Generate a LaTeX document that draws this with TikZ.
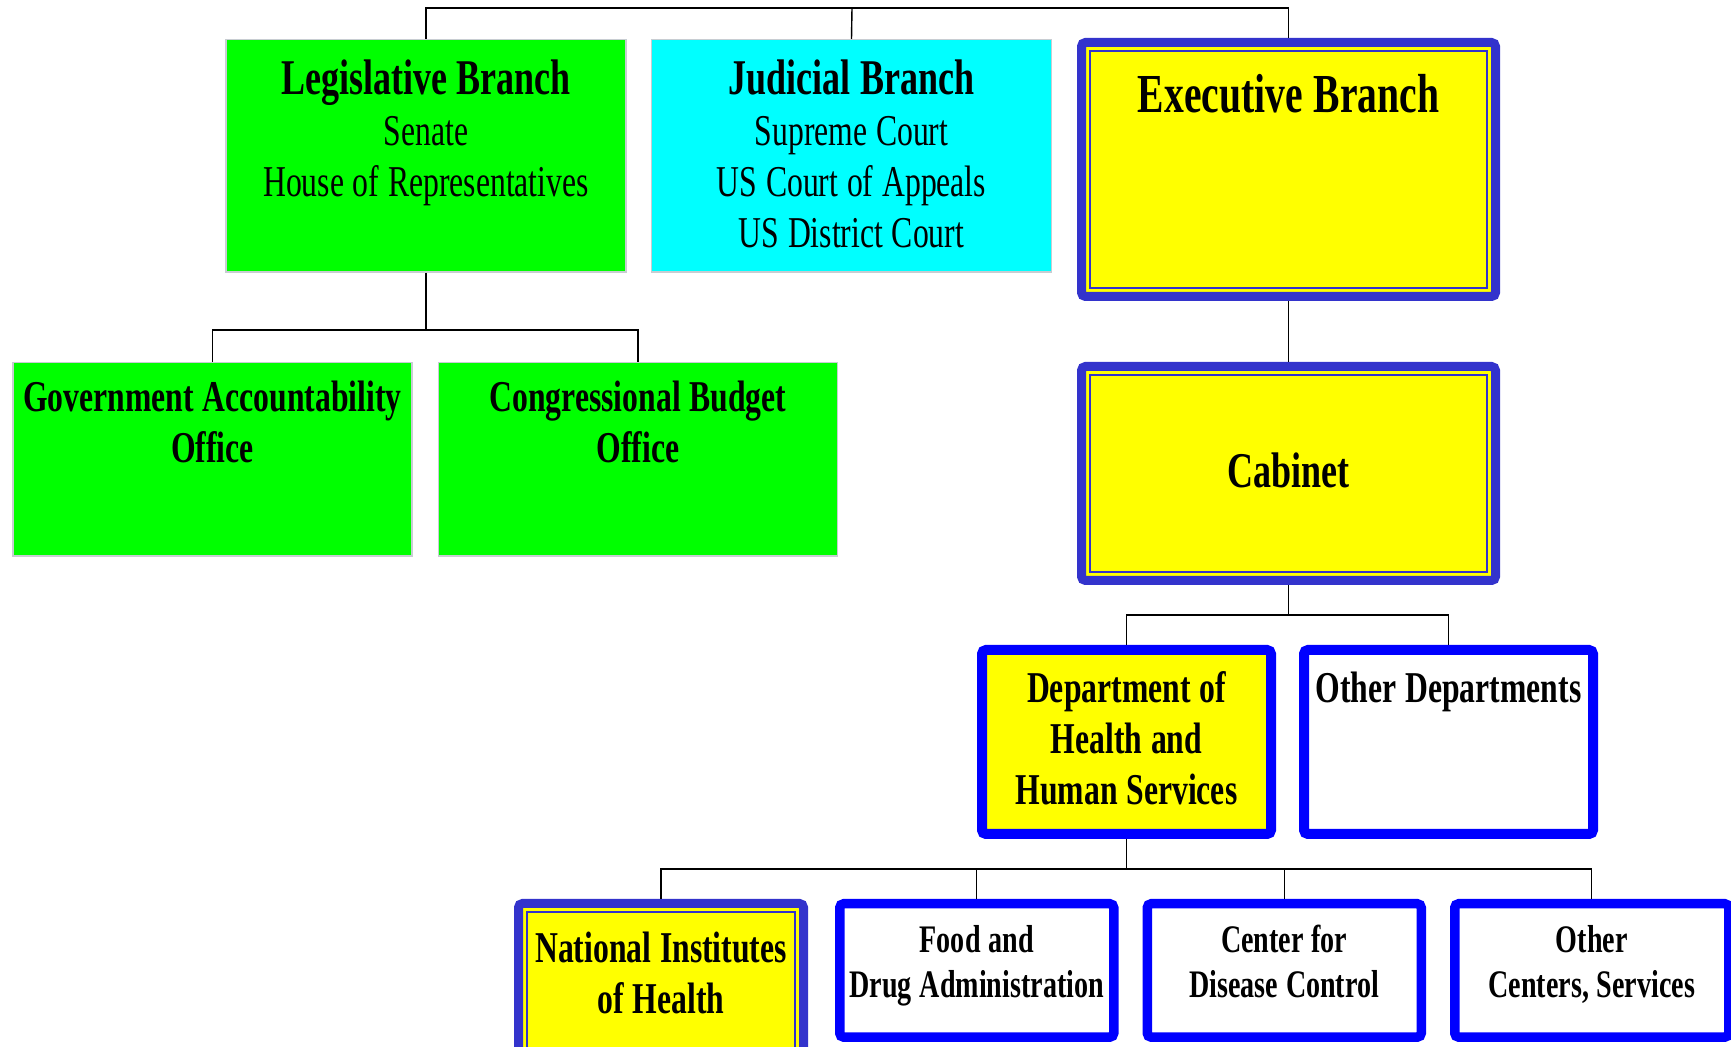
\documentclass[tikz,border=0pt]{standalone}
\usepackage{fontspec}
\setmainfont{Liberation Serif}[FakeStretch=0.72]
\usepackage{xcolor}
\usetikzlibrary{positioning}

\definecolor{lawgreen}{RGB}{0,255,0}
\definecolor{courtcyan}{RGB}{0,255,255}
\definecolor{execyellow}{RGB}{255,255,0}
\definecolor{execblue}{RGB}{51,51,204}
\definecolor{deptblue}{RGB}{0,0,255}
\definecolor{edgegray}{RGB}{200,205,210}

\newcommand{\boxfont}[2]{\fontsize{#1}{#2}\selectfont\spaceskip=0.2em\relax}

\begin{document}
\begin{tikzpicture}[x=0.5pt, y=-0.5pt]
\tikzstyle{box} = [rectangle, align=center, inner sep=0pt, anchor=north, execute at begin node={\spaceskip=0.2em\relax}]
\tikzstyle{branch} = [box, draw=edgegray, line width=0.75pt, text width=200pt, text height=27.6pt, text depth=88.6pt, font=\boxfont{22pt}{25.5pt}]
\tikzstyle{office} = [box, draw=edgegray, line width=0.75pt, fill=lawgreen, text width=199.5pt, text height=24.6pt, text depth=72.1pt, font=\boxfont{22pt}{25.5pt}\bfseries]
\tikzstyle{exec} = [box, draw=execblue, line width=4.5pt, fill=execyellow, rounded corners=2pt, text width=207pt,
  path picture={\draw [execblue, line width=1.25pt, sharp corners] ([xshift=4.25pt, yshift=-4.25pt]path picture bounding box.north west) rectangle ([xshift=-4.25pt, yshift=4.25pt]path picture bounding box.south east);}]
\tikzstyle{dept} = [box, draw=deptblue, line width=5pt, rounded corners=2pt, text width=144.5pt, text height=26.5pt, text depth=65.5pt, font=\boxfont{22pt}{25.5pt}\bfseries]
\tikzstyle{agency} = [box, draw=deptblue, line width=4.75pt, rounded corners=2pt, fill=white, text width=137pt, text height=24.6pt, text depth=42.1pt, font=\boxfont{19.5pt}{22.5pt}\bfseries]
\tikzstyle{conn} = [draw, line width=0.7pt]

\useasboundingbox (0,0) rectangle (1731,1047);

% three branches
\node (leg) [branch, fill=lawgreen] at (426,39) {{\boxfont{25pt}{25.5pt}\bfseries Legislative Branch}\\Senate\\House of Representatives};
\node (jud) [branch, fill=courtcyan, right=12pt of leg.north east, anchor=north west] {{\boxfont{25pt}{25.5pt}\bfseries Judicial Branch}\\Supreme Court\\US Court of Appeals\\US District Court};
\node (exe) [exec, text height=35.25pt, text depth=91.75pt, font=\boxfont{27.5pt}{30pt}\bfseries] at (1288.5,38) {Executive Branch};

% congress offices
\node (gao) [office] at (212.5,362) {Government Accountability\\Office};
\node (cbo) [office, right=12.5pt of gao.north east, anchor=north west] {Congressional Budget\\Office};

% executive side
\node (cab) [exec, text height=60.75pt, text depth=46.25pt, font=\boxfont{25pt}{28pt}\bfseries, below=30.5pt of exe] {Cabinet};
\node (dhhs) [dept, fill=execyellow] at (1126.5,645) {Department of\\Health and\\Human Services};
\node (odep) [dept, fill=white, right=11.5pt of dhhs.north east, anchor=north west] {Other Departments};

% agencies
\node (nih) [exec, text width=142.5pt, text height=29.75pt, text depth=51.25pt, font=\boxfont{22pt}{25pt}\bfseries] at (661,899) {National Institutes\\of Health};
\node (fda) [agency, right=13.5pt of nih.north east, anchor=north west] {Food and\\Drug Administration};
\node (cdc) [agency, right=12pt of fda.north east, anchor=north west] {Center for\\Disease Control};
\node (ocen) [agency, right=12pt of cdc.north east, anchor=north west] {Other\\Centers, Services};

% tree lines
\coordinate (topbus) at (852,8);
\coordinate (legbus) at (426,330);
\coordinate (cabbus) at (1288.5,615);
\coordinate (hhsbus) at (1126.5,869);

\draw [conn] (leg.north) |- (topbus) -| (exe.north);
\draw [conn] (jud.north) -- (topbus);
\draw [conn] (leg.south) -- (legbus);
\draw [conn] (gao.north) |- (legbus) -| (cbo.north);
\draw [conn] (exe.south) -- (cab.north);
\draw [conn] (cab.south) -- (cabbus);
\draw [conn] (dhhs.north) |- (cabbus) -| (odep.north);
\draw [conn] (dhhs.south) -- (hhsbus);
\draw [conn] (nih.north) |- (hhsbus) -| (ocen.north);
\draw [conn] (fda.north) -- (fda.north |- hhsbus);
\draw [conn] (cdc.north) -- (cdc.north |- hhsbus);

\end{tikzpicture}
\end{document}
